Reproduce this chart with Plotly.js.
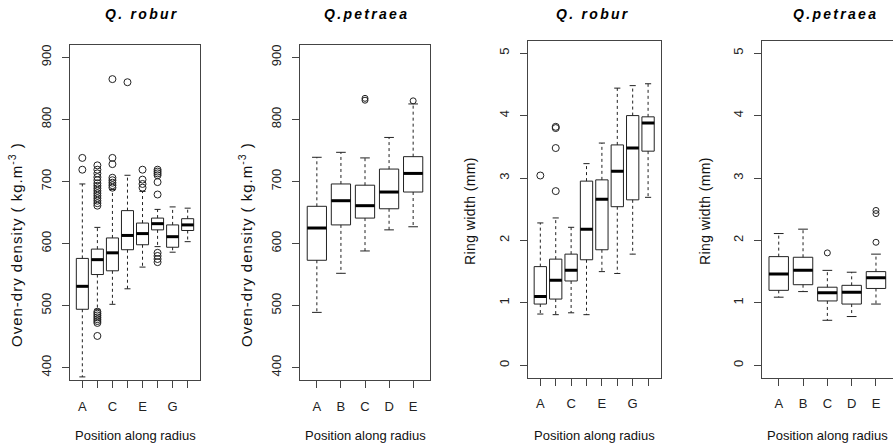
<!DOCTYPE html>
<html>
<head>
<meta charset="utf-8">
<script src="https://cdn.plot.ly/plotly-3.0.1.min.js"></script>
<style>html,body{margin:0;padding:0;background:#fff;}#chart{width:893px;height:446px;}</style>
</head>
<body>
<div id="chart"></div>
<script>
// ---------- DATA ----------
// Panel 1: Q. robur, oven-dry density
const robDensCats = ['A','B','C','D','E','F','G','H'];
const robDensTickText = ['A','','C','','E','','G',''];
const robDensQ1 = [494, 550, 556, 590, 598, 622, 594, 621];
const robDensMedian = [531, 574, 585, 613, 616, 632, 611, 630];
const robDensQ3 = [576, 591, 609, 653, 633, 641, 630, 640];
const robDensLower = [385, 494, 502, 527, 562, 595, 586, 603];
const robDensUpper = [696, 626, 687, 710, 684, 655, 659, 657];
const robDensOutCat = ['A','A',
  'B','B','B','B','B','B','B','B','B','B','B','B','B','B','B',
  'B','B','B','B','B','B','B','B',
  'C','C','C','C','C','C','C','C',
  'D',
  'E','E','E','E',
  'F','F','F','F','F','F','F','F','F','F'];
const robDensOutVal = [738, 719,
  726, 719, 713, 707, 702, 697, 693, 689, 685, 681, 677, 673, 669, 665, 661,
  490, 487, 484, 481, 478, 475, 472, 451,
  865, 738, 728, 706, 702, 698, 694, 690,
  860,
  719, 703, 696, 690,
  719, 716, 713, 710, 699, 679, 585, 580, 575, 570];

// Panel 2: Q. petraea, oven-dry density
const petDensCats = ['A','B','C','D','E'];
const petDensTickText = ['A','B','C','D','E'];
const petDensQ1 = [573, 630, 641, 656, 683];
const petDensMedian = [625, 669, 661, 683, 713];
const petDensQ3 = [660, 696, 694, 720, 740];
const petDensLower = [489, 552, 588, 622, 627];
const petDensUpper = [739, 747, 738, 771, 825];
const petDensOutCat = ['C','C','E'];
const petDensOutVal = [831, 834, 830];

// Panel 3: Q. robur, ring width
const robRingCats = ['A','B','C','D','E','F','G','H'];
const robRingTickText = ['A','','C','','E','','G',''];
const robRingQ1 = [0.98, 1.06, 1.35, 1.69, 1.85, 2.54, 2.65, 3.43];
const robRingMedian = [1.10, 1.36, 1.52, 2.18, 2.66, 3.11, 3.48, 3.88];
const robRingQ3 = [1.58, 1.70, 1.78, 2.95, 2.97, 3.53, 4.00, 3.98];
const robRingLower = [0.82, 0.81, 0.84, 0.81, 1.50, 1.47, 1.78, 2.69];
const robRingUpper = [2.28, 2.36, 2.21, 3.23, 3.56, 4.44, 4.48, 4.51];
const robRingOutCat = ['A','B','B','B','B'];
const robRingOutVal = [3.04, 3.82, 3.80, 3.48, 2.79];

// Panel 4: Q. petraea, ring width
const petRingCats = ['A','B','C','D','E'];
const petRingTickText = ['A','B','C','D','E'];
const petRingQ1 = [1.20, 1.29, 1.03, 0.98, 1.23];
const petRingMedian = [1.46, 1.52, 1.16, 1.17, 1.40];
const petRingQ3 = [1.74, 1.73, 1.25, 1.28, 1.50];
const petRingLower = [1.09, 1.18, 0.72, 0.78, 0.98];
const petRingUpper = [2.11, 2.18, 1.52, 1.49, 1.78];
const petRingOutCat = ['C','E','E','E'];
const petRingOutVal = [1.80, 1.97, 2.43, 2.48];

const panelTitles = ['Q. robur', 'Q.petraea', 'Q. robur', 'Q.petraea'];
const yTitles = ['Oven-dry density ( kg.m<sup>-3</sup> )', 'Oven-dry density ( kg.m<sup>-3</sup> )', 'Ring width (mm)', 'Ring width (mm)'];
const xTitle = 'Position along radius';
const densTicks = [400, 500, 600, 700, 800, 900];
const ringTicks = [0, 1, 2, 3, 4, 5];

// ---------- BUILD ----------
const FONT = '"Liberation Sans", Arial, Helvetica, sans-serif';
const BOXW = 0.8, CAPW = 0.4;

function panelTraces(n, cats, q1, med, q3, lo, hi, outCat, outVal, msize) {
  const xa = 'x' + (n === 1 ? '' : n), ya = 'y' + (n === 1 ? '' : n);
  const pos = cats.map((c, i) => i + 1);
  const wx = [], wy = [], cx = [], cy = [], mx = [], my = [];
  pos.forEach((p, i) => {
    wx.push(p, p, null, p, p, null);
    wy.push(q3[i], hi[i], null, q1[i], lo[i], null);
    cx.push(p - CAPW / 2, p + CAPW / 2, null, p - CAPW / 2, p + CAPW / 2, null);
    cy.push(hi[i], hi[i], null, lo[i], lo[i], null);
    mx.push(p - BOXW / 2, p + BOXW / 2, null);
    my.push(med[i], med[i], null);
  });
  const ox = outCat.map(c => cats.indexOf(c) + 1);
  return [
    {type: 'scatter', mode: 'lines', x: wx, y: wy, xaxis: xa, yaxis: ya,
     line: {color: '#222', width: 1, dash: '3px,3px'}, hoverinfo: 'skip', showlegend: false},
    {type: 'box', x: pos, q1: q1, median: med, q3: q3, lowerfence: q1, upperfence: q3,
     width: BOXW, whiskerwidth: 0, boxpoints: false, xaxis: xa, yaxis: ya,
     fillcolor: 'rgba(255,255,255,0)', line: {color: '#222', width: 1},
     hoverinfo: 'skip', showlegend: false},
    {type: 'scatter', mode: 'lines', x: cx, y: cy, xaxis: xa, yaxis: ya,
     line: {color: '#222', width: 1}, hoverinfo: 'skip', showlegend: false},
    {type: 'scatter', mode: 'lines', x: mx, y: my, xaxis: xa, yaxis: ya,
     line: {color: '#000', width: 3}, hoverinfo: 'skip', showlegend: false},
    {type: 'scatter', mode: 'markers', x: ox, y: outVal, xaxis: xa, yaxis: ya,
     marker: {symbol: 'circle-open', size: msize, color: '#222', line: {width: 1}},
     hoverinfo: 'skip', showlegend: false}
  ];
}

const data = [].concat(
  panelTraces(1, robDensCats, robDensQ1, robDensMedian, robDensQ3, robDensLower, robDensUpper, robDensOutCat, robDensOutVal, 7),
  panelTraces(2, petDensCats, petDensQ1, petDensMedian, petDensQ3, petDensLower, petDensUpper, petDensOutCat, petDensOutVal, 6),
  panelTraces(3, robRingCats, robRingQ1, robRingMedian, robRingQ3, robRingLower, robRingUpper, robRingOutCat, robRingOutVal, 7),
  panelTraces(4, petRingCats, petRingQ1, petRingMedian, petRingQ3, petRingLower, petRingUpper, petRingOutCat, petRingOutVal, 6)
);

const W = 893, H = 446;
// frames in pixels: [left, right, top, bottom]
const frames = [[70, 200, 45, 380], [300, 430, 45, 380], [527.7, 660.7, 40.7, 377.7], [761.7, 893, 40.7, 377.7]];
const catsList = [robDensCats, petDensCats, robRingCats, petRingCats];
const tickTextList = [robDensTickText, petDensTickText, robRingTickText, petRingTickText];
const yTickList = [densTicks, densTicks, ringTicks, ringTicks];
const yRanges = [[380, 920], [380, 920], [-0.2, 5.2], [-0.2, 5.2]];

const layout = {
  width: W, height: H, margin: {l: 0, r: 0, t: 0, b: 0},
  paper_bgcolor: '#fff', plot_bgcolor: '#fff',
  font: {family: FONT, color: '#111'},
  showlegend: false, annotations: []
};

frames.forEach((f, k) => {
  const n = k + 1, sfx = n === 1 ? '' : n;
  const nc = catsList[k].length;
  const ext = 0.04 * nc;
  layout['xaxis' + sfx] = {
    domain: [f[0] / W, Math.min(f[1] / W, 1)], anchor: 'y' + sfx,
    range: [0.5 - ext, nc + 0.5 + ext],
    tickmode: 'array', tickvals: catsList[k].map((c, i) => i + 1), ticktext: tickTextList[k],
    ticks: 'outside', ticklen: 7, tickcolor: '#444', tickwidth: 1,
    showline: true, mirror: true, linecolor: '#444', linewidth: 1,
    showgrid: false, zeroline: false, ticklabelstandoff: 7,
    tickfont: {family: FONT, size: 13, color: '#222'}, fixedrange: true
  };
  layout['yaxis' + sfx] = {
    domain: [1 - f[3] / H, 1 - f[2] / H], anchor: 'x' + sfx,
    range: yRanges[k], tickmode: 'array', tickvals: yTickList[k],
    ticks: 'outside', ticklen: 7, tickcolor: '#444', tickwidth: 1, tickangle: -90,
    showline: true, mirror: k < 3, linecolor: '#444', linewidth: 1,
    showgrid: false, zeroline: false, ticklabelstandoff: 6,
    tickfont: {family: FONT, size: 13, color: '#222'}, fixedrange: true
  };
});

const titleX = [141.7, 366.7, 593, 835];
const yTitleX = [15, 245, 470, 705];
const yTitleY = [245, 245, 211, 211];
const yTitleSize = [15, 15, 14, 14];
const yTitleSpacing = [1, 1, 0.4, 0.4];
const xTitleX = [135, 365, 594, 827];
titleX.forEach((tx, k) => {
  layout.annotations.push({
    xref: 'paper', yref: 'paper', x: tx / W, y: 1 - 13.5 / H, xanchor: 'center', yanchor: 'middle',
    text: '<span style="letter-spacing:2.3px">' + panelTitles[k] + '</span>', showarrow: false,
    font: {family: FONT, size: 14, color: '#000', weight: 'bold', style: 'italic'}
  });
  layout.annotations.push({
    xref: 'paper', yref: 'paper', x: yTitleX[k] / W, y: 1 - yTitleY[k] / H,
    xanchor: 'center', yanchor: 'middle', textangle: -90,
    text: '<span style="letter-spacing:' + yTitleSpacing[k] + 'px">' + yTitles[k] + '</span>',
    showarrow: false, font: {family: FONT, size: yTitleSize[k], color: '#111'}
  });
  layout.annotations.push({
    xref: 'paper', yref: 'paper', x: xTitleX[k] / W, y: 1 - 435 / H,
    xanchor: 'center', yanchor: 'middle',
    text: xTitle, showarrow: false, font: {family: FONT, size: 13, color: '#111'}
  });
});

Plotly.newPlot('chart', data, layout, {staticPlot: true, displayModeBar: false});
</script>
</body>
</html>
